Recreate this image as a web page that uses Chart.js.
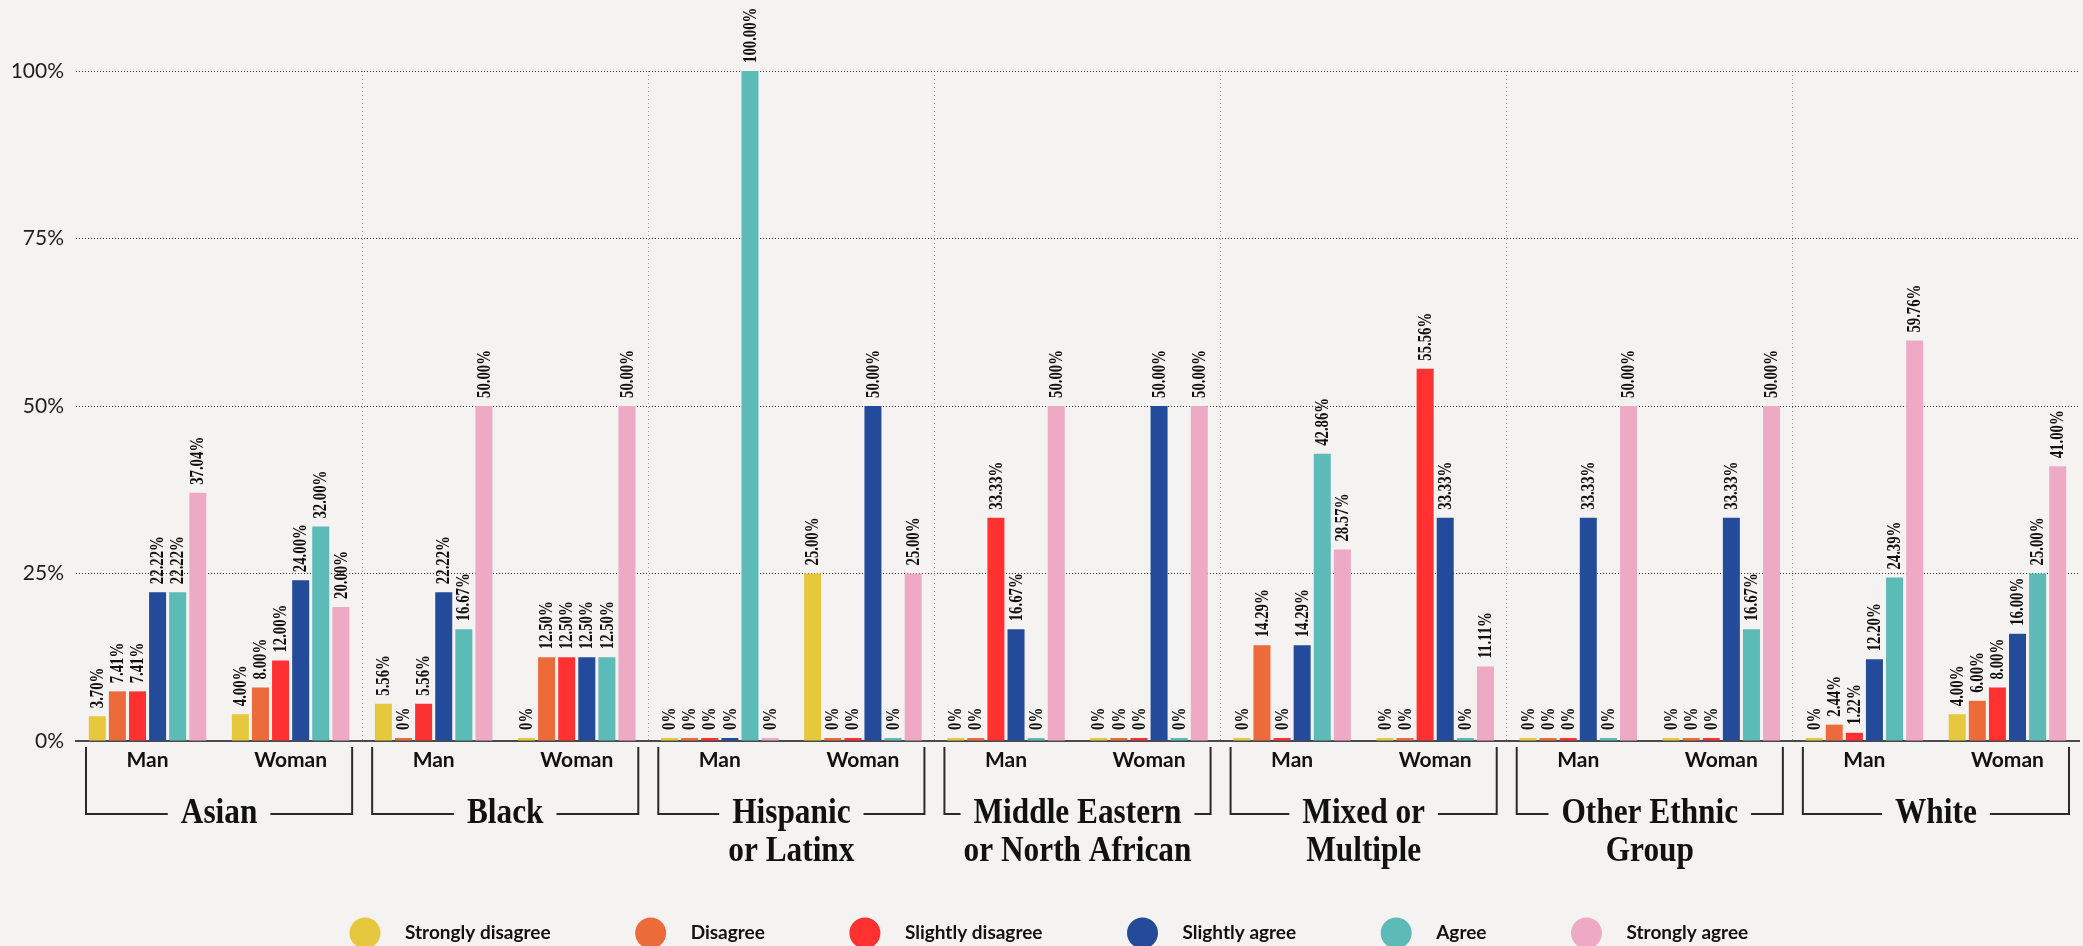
<!DOCTYPE html>
<html>
<head>
<meta charset="utf-8">
<script src="https://cdn.jsdelivr.net/npm/chart.js@4.4.1/dist/chart.umd.min.js"></script>
<style>
  html, body { margin: 0; padding: 0; background: #f4f3f1; overflow: hidden; }
  #wrap { width: 2083px; height: 946px; }
</style>
</head>
<body>
<div id="wrap"><canvas id="chart" width="2083" height="946"></canvas></div>
<script>
// Gender within each ethnic group, one bar cluster per category
const categories = [
  'Man', 'Woman', 'Man', 'Woman', 'Man', 'Woman', 'Man', 'Woman',
  'Man', 'Woman', 'Man', 'Woman', 'Man', 'Woman'
];

// Ethnic group names (one per pair of categories), split into lines
const groupNames = [
  ['Asian'],
  ['Black'],
  ['Hispanic', 'or Latinx'],
  ['Middle Eastern', 'or North African'],
  ['Mixed or', 'Multiple'],
  ['Other Ethnic', 'Group'],
  ['White']
];

// Response shares (%) per category
const stronglyDisagree = [3.70, 4.00, 5.56, 0, 0, 25.00, 0, 0, 0, 0, 0, 0, 0, 4.00];
const disagree         = [7.41, 8.00, 0, 12.50, 0, 0, 0, 0, 14.29, 0, 0, 0, 2.44, 6.00];
const slightlyDisagree = [7.41, 12.00, 5.56, 12.50, 0, 0, 33.33, 0, 0, 55.56, 0, 0, 1.22, 8.00];
const slightlyAgree    = [22.22, 24.00, 22.22, 12.50, 0, 50.00, 16.67, 50.00, 14.29, 33.33, 33.33, 33.33, 12.20, 16.00];
const agree            = [22.22, 32.00, 16.67, 12.50, 100.00, 0, 0, 0, 42.86, 0, 0, 16.67, 24.39, 25.00];
const stronglyAgree    = [37.04, 20.00, 50.00, 50.00, 0, 25.00, 50.00, 50.00, 28.57, 11.11, 50.00, 50.00, 59.76, 41.00];

const seriesNames = ['Strongly disagree', 'Disagree', 'Slightly disagree', 'Slightly agree', 'Agree', 'Strongly agree'];
const seriesValues = [stronglyDisagree, disagree, slightlyDisagree, slightlyAgree, agree, stronglyAgree];
const seriesColors = ['#e6c83f', '#ec6b3b', '#ff3131', '#244b99', '#5cbbb6', '#eeaac5'];

const yTicks = [0, 25, 50, 75, 100];

const BG = '#f4f3f1';

const background = {
  id: 'background',
  beforeDraw(chart) {
    const { ctx, width, height } = chart;
    ctx.save();
    ctx.fillStyle = BG;
    ctx.fillRect(0, 0, width, height);
    ctx.restore();
  }
};

// Vertical value labels above each bar (narrow bold serif)
const valueLabels = {
  id: 'valueLabels',
  afterDatasetsDraw(chart) {
    const ctx = chart.ctx;
    ctx.save();
    ctx.font = 'bold 18px "Liberation Serif"';
    ctx.fillStyle = '#111';
    ctx.textAlign = 'left';
    ctx.textBaseline = 'middle';
    chart.data.datasets.forEach((ds, di) => {
      chart.getDatasetMeta(di).data.forEach((bar, i) => {
        const v = ds.data[i];
        const txt = v === 0 ? '0%' : v.toFixed(2) + '%';
        ctx.save();
        ctx.translate(bar.x + 1, bar.y - 8);
        ctx.rotate(-Math.PI / 2);
        ctx.scale(0.82, 1);
        ctx.fillText(txt, 0, 0);
        ctx.restore();
      });
    });
    ctx.restore();
  }
};

// Bracket and name under each ethnic group
const groupBrackets = {
  id: 'groupBrackets',
  afterDraw(chart) {
    const { ctx, chartArea, scales: { x } } = chart;
    const per = x.width / categories.length;
    const base = chartArea.bottom;
    const inset = 10, gap = 13, squeeze = 0.87;
    const yTop = base + 6, yLine = base + 73;
    ctx.save();
    ctx.font = 'bold 36px "Liberation Serif"';
    groupNames.forEach((lines, g) => {
      const gl = x.left + g * 2 * per;
      const gr = gl + 2 * per;
      const left = gl + inset, right = gr - inset;
      const mid = (gl + gr) / 2;
      const tw = ctx.measureText(lines[0]).width * squeeze;
      ctx.strokeStyle = '#2a2a2a';
      ctx.lineWidth = 2;
      ctx.beginPath();
      ctx.moveTo(left, yTop);
      ctx.lineTo(left, yLine);
      ctx.lineTo(mid - tw / 2 - gap, yLine);
      ctx.moveTo(mid + tw / 2 + gap, yLine);
      ctx.lineTo(right, yLine);
      ctx.lineTo(right, yTop);
      ctx.stroke();
      ctx.fillStyle = '#111';
      ctx.textAlign = 'center';
      ctx.textBaseline = 'alphabetic';
      lines.forEach((t, i) => {
        ctx.save();
        ctx.translate(mid, base + 82 + i * 38);
        ctx.scale(squeeze, 1);
        ctx.fillText(t, 0, 0);
        ctx.restore();
      });
    });
    ctx.restore();
  }
};

// Row of round swatches along the bottom
const bottomLegend = {
  id: 'bottomLegend',
  afterDraw(chart) {
    const ctx = chart.ctx;
    const y = 933, r = 15.5, textOffset = 40, spacing = 100;
    ctx.save();
    ctx.font = 'bold 19px Lato';
    ctx.textAlign = 'left';
    ctx.textBaseline = 'middle';
    let cx = 365;
    chart.data.datasets.forEach(ds => {
      ctx.fillStyle = ds.backgroundColor;
      ctx.beginPath();
      ctx.arc(cx, y, r, 0, Math.PI * 2);
      ctx.fill();
      ctx.fillStyle = '#111';
      ctx.fillText(ds.label, cx + textOffset, y);
      cx += textOffset + ctx.measureText(ds.label).width + spacing;
    });
    ctx.restore();
  }
};

new Chart(document.getElementById('chart'), {
  type: 'bar',
  data: {
    labels: categories,
    datasets: seriesNames.map((name, i) => ({
      label: name,
      data: seriesValues[i],
      backgroundColor: seriesColors[i],
      borderWidth: 0,
      minBarLength: 3,
      categoryPercentage: 0.843,
      barPercentage: 0.846
    }))
  },
  options: {
    responsive: false,
    devicePixelRatio: 1,
    animation: false,
    layout: { padding: { top: 71, right: 4, left: 0, bottom: 0 } },
    plugins: {
      legend: { display: false },
      tooltip: { enabled: false }
    },
    scales: {
      x: {
        afterFit(scale) { scale.height = 205; },
        grid: {
          drawTicks: false,
          lineWidth: 1,
          color: (c) => (c.index > 0 && c.index < categories.length && c.index % 2 === 0) ? '#9a9a9a' : 'rgba(0,0,0,0)'
        },
        border: { display: true, color: '#4a4a4a', width: 2, dash: [1, 3] },
        ticks: {
          autoSkip: false,
          maxRotation: 0,
          padding: 7,
          color: '#111',
          font: { family: 'Lato', size: 21, weight: 'bold' }
        }
      },
      y: {
        min: 0,
        max: 100,
        afterFit(scale) { scale.width = 76; },
        afterBuildTicks(scale) { scale.ticks = yTicks.map(v => ({ value: v })); },
        grid: {
          drawTicks: false,
          lineWidth: 1,
          color: (c) => (c.tick && c.tick.value === 0) ? 'rgba(0,0,0,0)' : '#3a3a3a'
        },
        border: { display: false, dash: [1, 2] },
        ticks: {
          padding: 12,
          color: '#1e1e1e',
          font: { family: 'Lato', size: 21 },
          callback: (v) => v + '%'
        }
      }
    }
  },
  plugins: [background, valueLabels, groupBrackets, bottomLegend]
});
</script>
</body>
</html>
